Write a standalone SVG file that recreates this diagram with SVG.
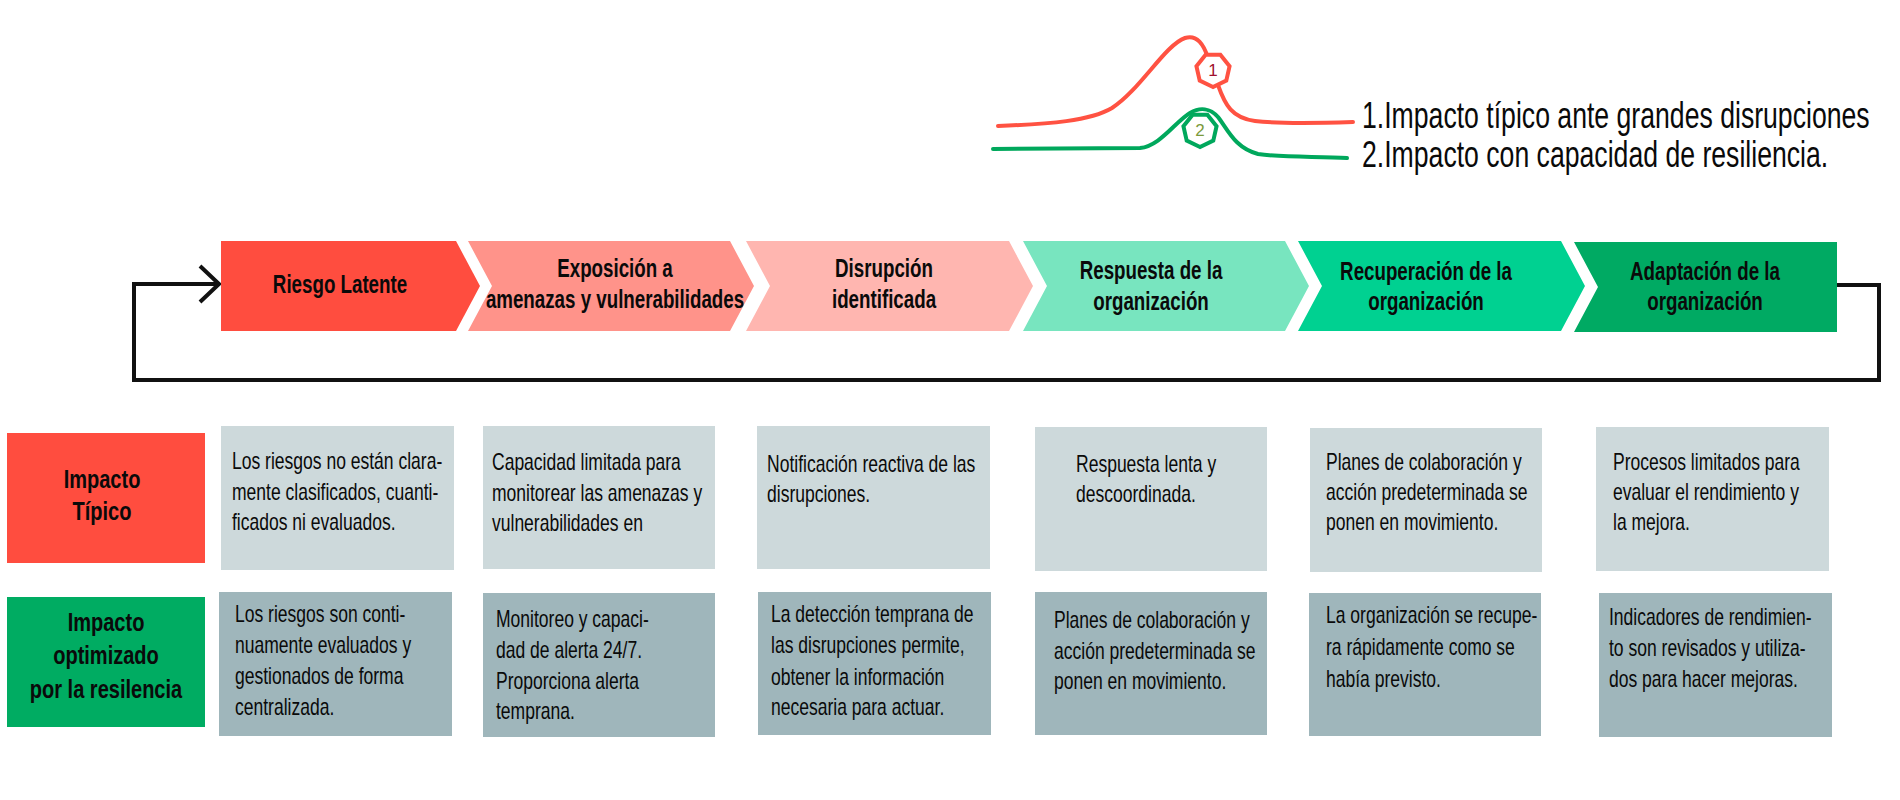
<svg xmlns="http://www.w3.org/2000/svg" width="1900" height="800" viewBox="0 0 1900 800">
<style>
  text { font-family: "Liberation Sans", Arial, sans-serif; fill: #0a0a0a; }
  .body { font-size: 24px; }
  .chev { font-size: 25px; font-weight: bold; }
  .lbl { font-size: 26px; font-weight: bold; }
  .leg { font-size: 37px; }
  .num { font-size: 17px; }
  .top { fill: #CDD9DB; }
  .bot { fill: #9FB6BB; }
  .curve { fill: none; stroke-width: 4; stroke-linecap: round; stroke-linejoin: round; }
  .loop { fill: none; stroke: #111; stroke-width: 4; stroke-linejoin: miter; }
</style>
<defs>
  <polygon id="hept" points="0,17 -13.29,10.6 -16.57,-3.78 -7.38,-15.32 7.38,-15.32 16.57,-3.78 13.29,10.6" fill="#fff" stroke-width="4"/>
</defs>
<rect width="1900" height="800" fill="#fff"/>

<!-- Legend -->
<g id="legend">
  <path class="curve" stroke="#FF5242" d="M998,126 C1050,124 1090,121 1112,108 C1140,90 1165,45 1185,38 C1197,34 1204,45 1208,58 L1218,85 C1225,105 1232,118 1255,121 C1280,124 1320,123 1353,122"/>
  <path class="curve" stroke="#00A85C" d="M993,149 L1140,148 C1160,146 1175,122 1190,113 C1200,107 1210,108 1218,117 C1228,130 1235,148 1258,154 C1285,158 1320,156 1347,158"/>
  <use href="#hept" x="1213" y="70" stroke="#FF5242"/>
  <text class="num" x="1213" y="76" text-anchor="middle" style="fill:#A0102E">1</text>
  <use href="#hept" x="1200" y="130" stroke="#00A85C"/>
  <text class="num" x="1200" y="136" text-anchor="middle" style="fill:#7B9A3B">2</text>
  <text class="leg" transform="translate(1362,0) scale(0.72,1)"><tspan x="0" y="128">1.Impacto típico ante grandes disrupciones</tspan><tspan x="0" y="167">2.Impacto con capacidad de resiliencia.</tspan></text>
</g>

<!-- Connectors -->
<g id="connectors">
  <polyline class="loop" points="1837,285 1879,285 1879,380 134,380 134,284 218,284"/>
  <polyline class="loop" points="200,266 219,284 200,302"/>
</g>

<!-- Chevrons -->
<g id="step1">
  <polygon points="221,241 456,241 480,286 456,331 221,331" fill="#FF4D3F"/>
  <text class="chev" text-anchor="middle" transform="translate(340,0) scale(0.75,1)"><tspan x="0" y="293">Riesgo Latente</tspan></text>
</g>
<g id="step2">
  <polygon points="468,241 730,241 754,286 730,331 468,331 492,286" fill="#FF938A"/>
  <text class="chev" text-anchor="middle" transform="translate(615,0) scale(0.75,1)"><tspan x="0" y="277">Exposición a</tspan><tspan x="0" y="308">amenazas y vulnerabilidades</tspan></text>
</g>
<g id="step3">
  <polygon points="746,241 1009,241 1033,286 1009,331 746,331 770,286" fill="#FFB6B0"/>
  <text class="chev" text-anchor="middle" transform="translate(884,0) scale(0.75,1)"><tspan x="0" y="277">Disrupción</tspan><tspan x="0" y="308">identificada</tspan></text>
</g>
<g id="step4">
  <polygon points="1023,241 1285,241 1309,286 1285,331 1023,331 1047,286" fill="#78E5BF"/>
  <text class="chev" text-anchor="middle" transform="translate(1151,0) scale(0.75,1)"><tspan x="0" y="279">Respuesta de la</tspan><tspan x="0" y="310">organización</tspan></text>
</g>
<g id="step5">
  <polygon points="1298,241 1561,241 1585,286 1561,331 1298,331 1322,286" fill="#00D191"/>
  <text class="chev" text-anchor="middle" transform="translate(1426,0) scale(0.75,1)"><tspan x="0" y="280">Recuperación de la</tspan><tspan x="0" y="310">organización</tspan></text>
</g>
<g id="step6">
  <polygon points="1574,242 1837,242 1837,332 1574,332 1598,287" fill="#00AA63"/>
  <text class="chev" text-anchor="middle" transform="translate(1705,0) scale(0.75,1)"><tspan x="0" y="280">Adaptación de la</tspan><tspan x="0" y="310">organización</tspan></text>
</g>

<!-- Row labels -->
<g id="label-tipico">
  <rect x="7" y="433" width="198" height="130" fill="#FF4D3F"/>
  <text class="lbl" text-anchor="middle" transform="translate(102,0) scale(0.77,1)"><tspan x="0" y="488">Impacto</tspan><tspan x="0" y="520">Típico</tspan></text>
</g>
<g id="label-optimizado">
  <rect x="7" y="597" width="198" height="130" fill="#00AC62"/>
  <text class="lbl" text-anchor="middle" transform="translate(106,0) scale(0.77,1)"><tspan x="0" y="631">Impacto</tspan><tspan x="0" y="664">optimizado</tspan><tspan x="0" y="698">por la resilencia</tspan></text>
</g>

<!-- Top row boxes -->
<g id="tip1">
  <rect class="top" x="221" y="426" width="233" height="144"/>
  <text class="body" transform="translate(232,0) scale(0.73,1)"><tspan x="0" y="469">Los riesgos no están clara-</tspan><tspan x="0" y="500">mente clasificados, cuanti-</tspan><tspan x="0" y="530">ficados ni evaluados.</tspan></text>
</g>
<g id="tip2">
  <rect class="top" x="483" y="426" width="232" height="143"/>
  <text class="body" transform="translate(492,0) scale(0.73,1)"><tspan x="0" y="470">Capacidad limitada para</tspan><tspan x="0" y="501">monitorear las amenazas y</tspan><tspan x="0" y="531">vulnerabilidades en</tspan></text>
</g>
<g id="tip3">
  <rect class="top" x="757" y="426" width="233" height="143"/>
  <text class="body" transform="translate(767,0) scale(0.73,1)"><tspan x="0" y="472">Notificación reactiva de las</tspan><tspan x="0" y="502">disrupciones.</tspan></text>
</g>
<g id="tip4">
  <rect class="top" x="1035" y="427" width="232" height="144"/>
  <text class="body" transform="translate(1076,0) scale(0.73,1)"><tspan x="0" y="472">Respuesta lenta y</tspan><tspan x="0" y="502">descoordinada.</tspan></text>
</g>
<g id="tip5">
  <rect class="top" x="1310" y="428" width="232" height="144"/>
  <text class="body" transform="translate(1326,0) scale(0.73,1)"><tspan x="0" y="470">Planes de colaboración y</tspan><tspan x="0" y="500">acción predeterminada se</tspan><tspan x="0" y="530">ponen en movimiento.</tspan></text>
</g>
<g id="tip6">
  <rect class="top" x="1596" y="427" width="233" height="144"/>
  <text class="body" transform="translate(1613,0) scale(0.73,1)"><tspan x="0" y="470">Procesos limitados para</tspan><tspan x="0" y="500">evaluar el rendimiento y</tspan><tspan x="0" y="530">la mejora.</tspan></text>
</g>

<!-- Bottom row boxes -->
<g id="opt1">
  <rect class="bot" x="219" y="592" width="233" height="144"/>
  <text class="body" transform="translate(235,0) scale(0.73,1)"><tspan x="0" y="622">Los riesgos son conti-</tspan><tspan x="0" y="653">nuamente evaluados y</tspan><tspan x="0" y="684">gestionados de forma</tspan><tspan x="0" y="715">centralizada.</tspan></text>
</g>
<g id="opt2">
  <rect class="bot" x="483" y="593" width="232" height="144"/>
  <text class="body" transform="translate(496,0) scale(0.73,1)"><tspan x="0" y="627">Monitoreo y capaci-</tspan><tspan x="0" y="658">dad de alerta 24/7.</tspan><tspan x="0" y="689">Proporciona alerta</tspan><tspan x="0" y="719">temprana.</tspan></text>
</g>
<g id="opt3">
  <rect class="bot" x="758" y="592" width="233" height="143"/>
  <text class="body" transform="translate(771,0) scale(0.73,1)"><tspan x="0" y="622">La detección temprana de</tspan><tspan x="0" y="653">las disrupciones permite,</tspan><tspan x="0" y="685">obtener la información</tspan><tspan x="0" y="715">necesaria para actuar.</tspan></text>
</g>
<g id="opt4">
  <rect class="bot" x="1035" y="592" width="232" height="143"/>
  <text class="body" transform="translate(1054,0) scale(0.73,1)"><tspan x="0" y="628">Planes de colaboración y</tspan><tspan x="0" y="659">acción predeterminada se</tspan><tspan x="0" y="689">ponen en movimiento.</tspan></text>
</g>
<g id="opt5">
  <rect class="bot" x="1309" y="593" width="232" height="143"/>
  <text class="body" transform="translate(1326,0) scale(0.73,1)"><tspan x="0" y="623">La organización se recupe-</tspan><tspan x="0" y="655">ra rápidamente como se</tspan><tspan x="0" y="687">había previsto.</tspan></text>
</g>
<g id="opt6">
  <rect class="bot" x="1599" y="593" width="233" height="144"/>
  <text class="body" transform="translate(1609,0) scale(0.73,1)"><tspan x="0" y="625">Indicadores de rendimien-</tspan><tspan x="0" y="656">to son revisados y utiliza-</tspan><tspan x="0" y="687">dos para hacer mejoras.</tspan></text>
</g>
</svg>
